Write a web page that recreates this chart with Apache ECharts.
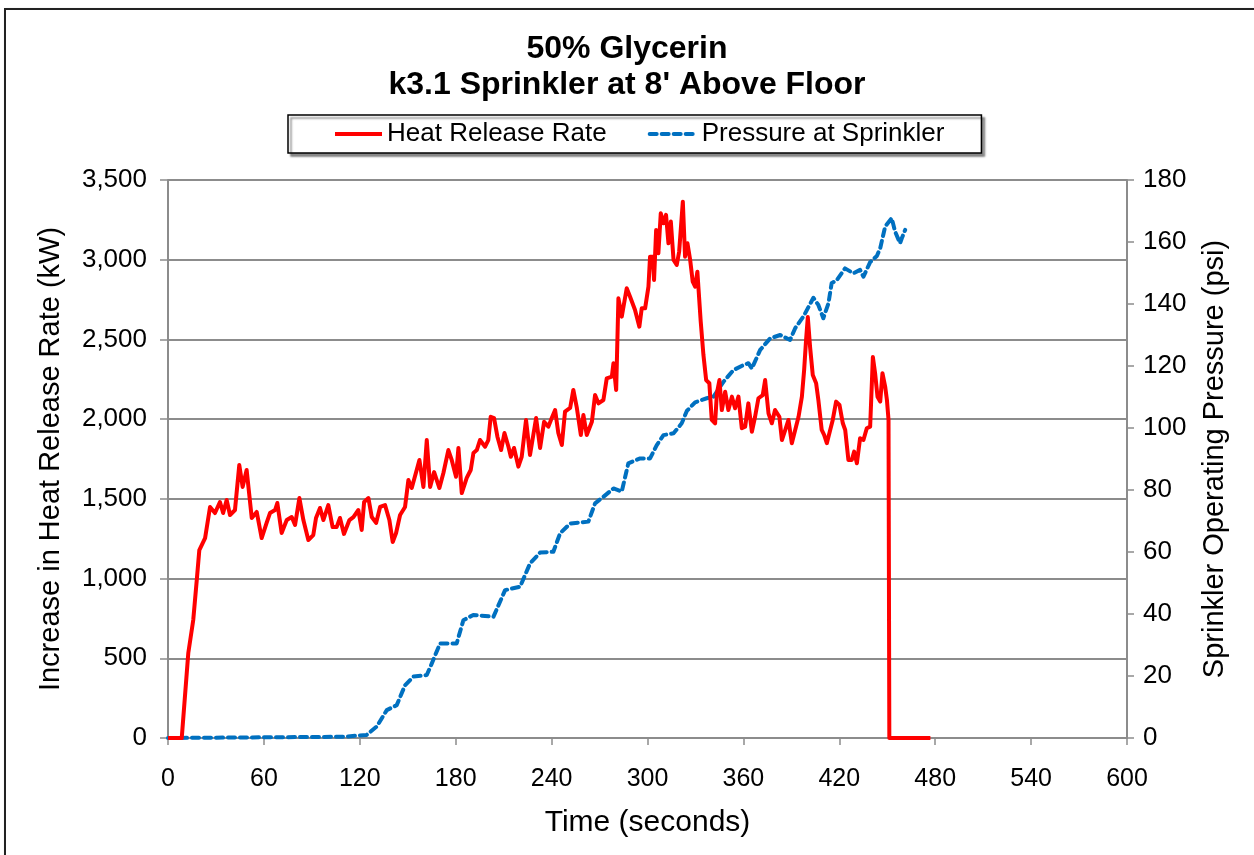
<!DOCTYPE html>
<html>
<head>
<meta charset="utf-8">
<title>50% Glycerin</title>
<script src="https://cdn.jsdelivr.net/npm/echarts@6/dist/echarts.min.js"></script>
<style>
    html, body { margin: 0; padding: 0; background: #fff; }
    #frame {
        position: absolute; left: 4px; top: 8px; width: 1300px; height: 900px;
        border: 2px solid #222; box-shadow: 2px 2px 3px rgba(0,0,0,0.45);
    }
    #main { position: absolute; left: 0; top: 0; width: 1254px; height: 855px; }
</style>
</head>
<body>
<div id="frame"></div>
<div id="main"></div>
<script>
// heat release rate (kW) against time (s)
var hrrTime = [0, 8.6, 12.7, 15.8, 18, 19.6, 23.2, 26.3, 29.4, 32.5, 34.5, 36.7, 38.8, 41.9, 44.6, 46.7, 49.2,
    52.4, 55.5, 58.6, 61.7, 63.8, 67, 68.4, 71.1, 74.3, 77.4, 79.5, 82.2, 84.7, 87.8, 90.9, 92.6, 95.1, 97.2,
    100.3, 103, 105.5, 107.6, 110.1, 113.5, 116, 119.1, 121.2, 122.7, 125.4, 127.5, 130.2, 132.7, 135.8, 138.5,
    140.6, 142.7, 145.2, 148.3, 150.4, 152.5, 155.6, 157.3, 159.8, 161.9, 164, 166.5, 169.8, 172.3, 175.4, 177.5,
    180.2, 181.7, 183.8, 186.9, 189.4, 191.1, 193.2, 195.2, 198.4, 200.4, 201.9, 204, 206.1, 208.4, 210.5, 213,
    214.5, 216.5, 219.2, 221.3, 224, 226.5, 230.3, 232.8, 235.3, 238, 240.1, 242.2, 244.2, 246.4, 248.4, 251.6,
    253.6, 255.8, 258.3, 259.9, 262, 265.2, 267.2, 269.3, 272.4, 274.5, 277.7, 278.7, 280.4, 281.8, 283.9, 287,
    289.1, 292.2, 294.9, 296.4, 298.5, 300.6, 301.6, 303.3, 304.1, 305.4, 306.8, 308.3, 310, 311.6, 313.1, 314.6,
    316.3, 318.3, 319.8, 322.1, 323.5, 325, 326.7, 328.3, 329.8, 331.2, 333.3, 335, 336.7, 338.7, 340.2, 342.3,
    343.4, 345, 346.5, 348.6, 350.6, 352.8, 354.8, 356.9, 359, 361.1, 363.1, 365.3, 367.3, 369.4, 372.1, 373.6,
    375.7, 377.8, 379.8, 382.5, 384.1, 386.2, 388.2, 390.3, 392.4, 394.5, 396.6, 398, 399.2, 400.3, 401.7, 403.4,
    405.5, 406.9, 409, 410.5, 412.2, 414.3, 415.9, 418, 420.1, 422.2, 423.7, 425.7, 427.8, 429.3, 431, 433,
    435.1, 437.2, 439.3, 441, 442.4, 443.9, 445.6, 447, 448.7, 449.8, 450.8, 451.3, 477];
var hrrKW = [0, 0, 533, 740, 991, 1179, 1254, 1449, 1411, 1480, 1411, 1493, 1399, 1430, 1712, 1575, 1681,
    1380, 1418, 1254, 1349, 1411, 1430, 1474, 1286, 1367, 1386, 1336, 1505, 1367, 1242, 1273, 1380, 1443, 1367,
    1461, 1323, 1323, 1380, 1280, 1367, 1386, 1430, 1305, 1480, 1505, 1386, 1349, 1449, 1461, 1367,
    1229, 1286, 1399, 1449, 1618, 1568, 1681, 1744, 1575, 1869, 1575, 1668, 1568, 1662, 1806, 1744,
    1639, 1819, 1536, 1631, 1681, 1788, 1806, 1869, 1827, 1869, 2015, 2007, 1890, 1806, 1913, 1827,
    1764, 1819, 1702, 1764, 1995, 1775, 2007, 1819, 1984, 1953, 2007, 2057, 1913, 1838, 2047, 2070,
    2183, 2070, 1901, 2026, 1901, 1984, 2151, 2099, 2120, 2256, 2267, 2351, 2183, 2758, 2643, 2821,
    2768, 2685, 2580, 2695, 2695, 2831, 3019, 3019, 2873, 3186, 3040, 3291, 3229, 3281, 3103, 3239,
    2998, 2967, 3050, 3364, 3019, 3103, 2998, 2862, 2831, 2925, 2611, 2402, 2245, 2225, 1995, 1974,
    2162, 2245, 2057, 2172, 2057, 2141, 2068, 2141, 1943, 1953, 2099, 1921, 2015, 2131, 2151, 2245,
    2036, 1974, 2057, 2015, 1869, 1932, 1995, 1849, 1932, 2015, 2141, 2308, 2496, 2640, 2454, 2277,
    2225, 2120, 1932, 1901, 1849, 1932, 1995, 2110, 2089, 1974, 1932, 1744, 1744, 1796, 1723, 1880,
    1869, 1943, 1953, 2390, 2288, 2141, 2110, 2288, 2204, 2120, 1995, 0, 0];

// pressure at sprinkler (psi) against time (s)
var psiTime = [0, 110, 119, 124.3, 130.6, 136.9, 143.1, 148.3, 153.5, 161.9, 165, 170.2, 180.6, 184.8, 191,
    203.6, 210.9, 220.3, 226.5, 232.8, 241.1, 245.3, 251.6, 263, 267.2, 272.4, 278.7, 283.9, 288, 295.4, 301.6,
    305.8, 310, 316.3, 321.4, 324.6, 329.8, 337.1, 341.3, 347.5, 353.8, 360, 363.1, 365.3, 370.5, 376.7, 383,
    389.2, 392.4, 397.6, 400.7, 403.8, 406.9, 410, 413.2, 415.2, 418.4, 423.6, 428.8, 433, 435.1, 439.3, 443.5,
    445.6, 448.7, 452.8, 454.9, 458, 459.1, 461.2];
var psiVal = [0, 0.4, 0.8, 1, 3.7, 9, 10.6, 17, 19.8, 20.3, 24, 30.5, 30.5, 38, 39.7,
    39.1, 47.7, 48.8, 56.3, 59.8, 60.1, 66, 69.2, 69.8, 75.7, 77.8, 80.5, 79.5, 88.6, 90.2, 90.2,
    94.5, 97.7, 98.3, 101.5, 105.5, 108.3, 109.6, 110.1, 114.9, 118.7, 120.3, 120.9, 119.2, 125.2, 128.9, 130,
    128.4, 132.2, 136, 139, 142, 139.7, 135.4, 140.2, 146.7, 147.7, 151.5, 149.9, 151, 148.8, 153.5, 155.5,
    158, 165, 167.7, 163.4, 159.6, 161.2, 163.9];

var timeTicks = [0, 600, 60];
var kwTicks = [0, 3500, 500];
var psiTicks = [0, 180, 20];

function pairs(xs, ys) {
    return xs.map(function (x, i) { return [x, ys[i]]; });
}

var font = 'Liberation Sans, Arial, sans-serif';
var gridColor = '#8c8c8c';

var chart = echarts.init(document.getElementById('main'));
var option = {
    animation: false,
    textStyle: { fontFamily: font, color: '#000' },
    title: {
        text: '50% Glycerin\nk3.1 Sprinkler at 8\' Above Floor',
        left: 'center',
        top: 26,
        textStyle: { fontSize: 32, fontWeight: 'bold', lineHeight: 36, color: '#000', fontFamily: font }
    },
    legend: {
        left: 288,
        top: 115,
        padding: [6, 37, 6, 45],
        itemGap: 41,
        itemWidth: 47,
        itemHeight: 14,
        backgroundColor: '#fff',
        borderColor: '#000',
        borderWidth: 1.5,
        borderRadius: 0,
        shadowColor: 'rgba(0,0,0,0.45)',
        shadowBlur: 2,
        shadowOffsetX: 3,
        shadowOffsetY: 3,
        itemStyle: { opacity: 0 },
        lineStyle: { width: 4 },
        textStyle: { fontSize: 26, color: '#000', fontFamily: font },
        data: ['Heat Release Rate', 'Pressure at Sprinkler']
    },
    grid: { left: 168, right: 127, top: 180, bottom: 117, containLabel: false },
    xAxis: {
        type: 'value',
        min: timeTicks[0], max: timeTicks[1], interval: timeTicks[2],
        name: 'Time (seconds)',
        nameLocation: 'middle',
        nameGap: 70,
        nameTextStyle: { fontSize: 30, color: '#000' },
        axisLine: { lineStyle: { color: gridColor, width: 2 } },
        axisTick: { show: true, length: 7, lineStyle: { color: gridColor, width: 1.5 } },
        axisLabel: { fontSize: 25, color: '#000', margin: 29 },
        splitLine: { show: false }
    },
    yAxis: [{
        type: 'value',
        min: kwTicks[0], max: kwTicks[1], interval: kwTicks[2],
        name: 'Increase in Heat Release Rate (kW)',
        nameLocation: 'middle',
        nameRotate: 90,
        nameGap: 103,
        nameTextStyle: { fontSize: 29, color: '#000' },
        axisLine: { show: true, lineStyle: { color: gridColor, width: 2 } },
        axisTick: { show: true, length: 8, lineStyle: { color: gridColor, width: 1.5 } },
        axisLabel: {
            fontSize: 26, color: '#000', margin: 21,
            formatter: function (v) { return v.toLocaleString('en-US'); }
        },
        splitLine: { show: true, lineStyle: { color: gridColor, width: 2 } }
    }, {
        type: 'value',
        position: 'right',
        min: psiTicks[0], max: psiTicks[1], interval: psiTicks[2],
        name: 'Sprinkler Operating Pressure (psi)',
        nameLocation: 'middle',
        nameRotate: 90,
        nameGap: 73,
        nameTextStyle: { fontSize: 29, color: '#000' },
        axisLine: { show: true, lineStyle: { color: gridColor, width: 2 } },
        axisTick: { show: true, length: 7, lineStyle: { color: gridColor, width: 1.5 } },
        axisLabel: { fontSize: 26, color: '#000', margin: 16 },
        splitLine: { show: false }
    }],
    series: [{
        name: 'Heat Release Rate',
        type: 'line',
        yAxisIndex: 0,
        symbol: 'none',
        color: '#ff0000',
        lineStyle: { color: '#ff0000', width: 4, join: 'round' },
        data: pairs(hrrTime, hrrKW),
        z: 3
    }, {
        name: 'Pressure at Sprinkler',
        type: 'line',
        yAxisIndex: 1,
        symbol: 'none',
        color: '#0070c0',
        lineStyle: { color: '#0070c0', width: 4, type: [7, 5], cap: 'round', join: 'round' },
        data: pairs(psiTime, psiVal),
        z: 2
    }]
};
chart.setOption(option);
</script>
</body>
</html>
